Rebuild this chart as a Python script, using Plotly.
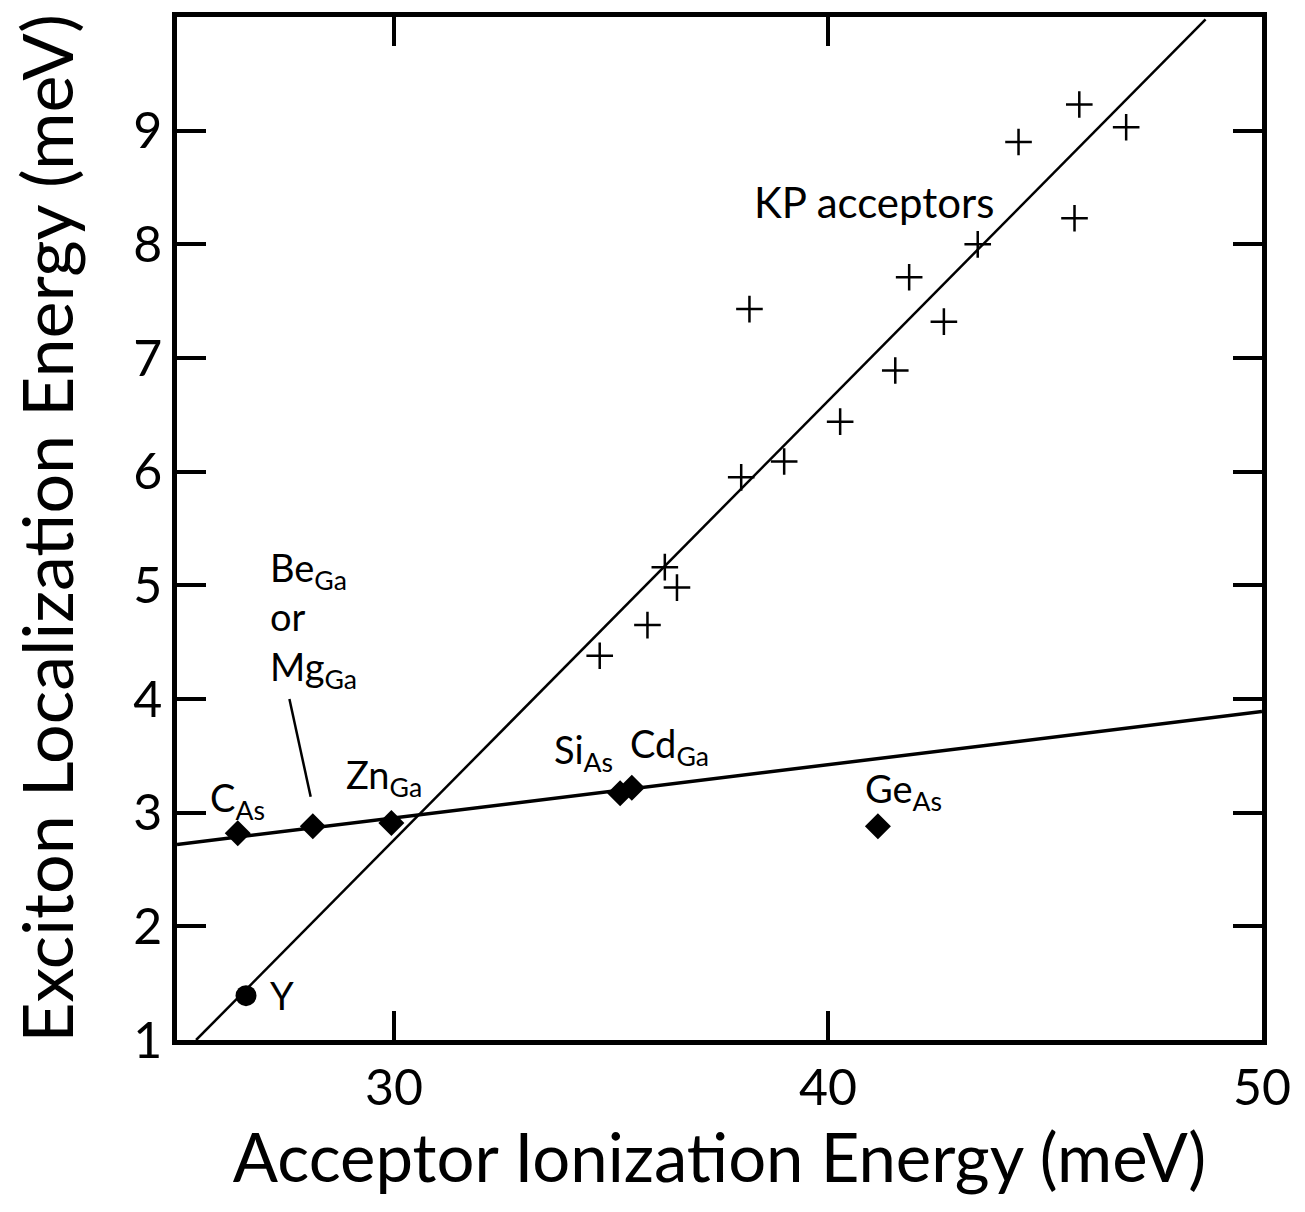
import plotly.graph_objects as go

# ---------------- data ----------------
# KP acceptors (crosses)
kp_x = [34.74, 35.84, 36.24, 36.52, 38.00, 38.19, 38.99, 40.28, 41.55, 41.87,
        42.67, 43.45, 44.39, 45.68, 45.79, 46.87]
kp_y = [4.38, 4.65, 5.16, 4.98, 5.95, 7.43, 6.09, 6.44, 6.89, 7.71,
        7.32, 8.00, 8.90, 8.23, 9.23, 9.03]

# Named acceptors (diamonds)
acc_names = ["C<sub>As</sub>", "Be<sub>Ga</sub> or Mg<sub>Ga</sub>", "Zn<sub>Ga</sub>",
             "Si<sub>As</sub>", "Cd<sub>Ga</sub>", "Ge<sub>As</sub>"]
acc_x = [26.40, 28.13, 29.94, 35.21, 35.48, 41.15]
acc_y = [2.82, 2.88, 2.91, 3.17, 3.22, 2.88]

# Y line (circle)
y_x = [26.59]
y_y = [1.39]

# Fit lines (end points)
kp_fit_x = [25.44, 48.70]
kp_fit_y = [1.00, 9.98]
acc_fit_x = [25.0, 50.0]
acc_fit_y = [2.72, 3.89]

x_ticks = [30, 40, 50]
y_ticks = [1, 2, 3, 4, 5, 6, 7, 8, 9]

FONT = "Lato, Liberation Sans, sans-serif"

fig = go.Figure()

fig.add_trace(go.Scatter(x=kp_fit_x, y=kp_fit_y, mode="lines",
                         line=dict(color="black", width=2.5), showlegend=False))
fig.add_trace(go.Scatter(x=acc_fit_x, y=acc_fit_y, mode="lines",
                         line=dict(color="black", width=3.5), showlegend=False))
fig.add_trace(go.Scatter(x=kp_x, y=kp_y, mode="markers",
                         marker=dict(symbol="cross-thin", size=19,
                                     line=dict(color="black", width=2.5)),
                         showlegend=False))
fig.add_trace(go.Scatter(x=acc_x, y=acc_y, mode="markers",
                         marker=dict(symbol="diamond", size=20, color="black",
                                     line=dict(width=0)),
                         showlegend=False))
fig.add_trace(go.Scatter(x=y_x, y=y_y, mode="markers",
                         marker=dict(symbol="circle", size=21, color="black",
                                     line=dict(width=0)),
                         showlegend=False))

ann_font = dict(family=FONT, size=38, color="black")
labels = [
    (26.39, 3.11, "C<sub>As</sub>", "center"),
    (27.09, 4.70, "Be<sub>Ga</sub><br>or<br>Mg<sub>Ga</sub>", "left"),
    (29.78, 3.31, "Zn<sub>Ga</sub>", "center"),
    (34.37, 3.53, "Si<sub>As</sub>", "center"),
    (36.35, 3.59, "Cd<sub>Ga</sub>", "center"),
    (41.74, 3.19, "Ge<sub>As</sub>", "center"),
    (27.41, 1.40, "Y", "center"),
]
for x, y, t, xa in labels:
    fig.add_annotation(x=x, y=y, text=t, showarrow=False, xanchor=xa,
                       yanchor="middle", align="left", font=ann_font)
fig.add_annotation(x=41.05, y=8.37, text="KP acceptors", showarrow=False,
                   font=dict(family=FONT, size=42, color="black"))

# leader line for Be/Mg label
fig.add_shape(type="line", x0=27.59, y0=4.00, x1=28.08, y1=3.14,
              line=dict(color="black", width=2.5))

axis_common = dict(showline=True, linecolor="black", linewidth=4.5, mirror="ticks",
                   ticks="inside", ticklen=29, tickwidth=3.5, tickcolor="black",
                   showgrid=False, zeroline=False,
                   tickfont=dict(family=FONT, size=50, color="black"))

fig.update_xaxes(range=[25, 50], tickvals=x_ticks, ticktext=[str(v) for v in x_ticks],
                 title=dict(text="Acceptor Ionization Energy (meV)",
                            font=dict(family=FONT, size=67, color="black"), standoff=22),
                 **axis_common)
fig.update_yaxes(range=[1, 10], tickvals=y_ticks, ticktext=[str(v) for v in y_ticks],
                 title=dict(text="Exciton Localization Energy (meV)",
                            font=dict(family=FONT, size=70, color="black"), standoff=38),
                 **axis_common)

fig.update_layout(width=1305, height=1212, plot_bgcolor="white", paper_bgcolor="white",
                  margin=dict(l=177, r=43, t=14, b=172), showlegend=False)

fig.write_html("out.html")
